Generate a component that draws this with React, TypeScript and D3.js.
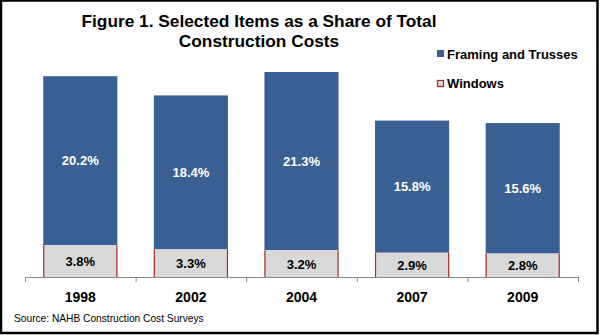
import React from "react";
import * as d3 from "d3";

const years = ["1998", "2002", "2004", "2007", "2009"];
const windows = [3.8, 3.3, 3.2, 2.9, 2.8];
const framing = [20.2, 18.4, 21.3, 15.8, 15.6];
const seriesNames = ["Framing and Trusses", "Windows"];
const titleLines = ["Figure 1. Selected Items as a Share of Total", "Construction Costs"];
const sourceText = "Source: NAHB Construction Cost Surveys";

const W = 600;
const H = 335;
const BLUE = "#3a5f93";
const GRAY = "#d9d9d9";
const RED = "#b02a2a";
const FONT = "'Liberation Sans', Arial, sans-serif";

export default function App() {
  const x = d3.scaleBand<string>().domain(years).range([25, 578]).paddingInner(0.33).paddingOuter(0.165);
  const y = d3.scaleLinear().domain([0, 30]).range([277, 26]);
  const band = d3.scaleBand<string>().domain(years).range([25, 578]);

  return (
    <div style={{ position: "absolute", left: 0, top: 0 }}>
      <svg width={W} height={H} style={{ display: "block", fontFamily: FONT }}>
        <rect x={0} y={0} width={W} height={H} fill="#ffffff" />
        {titleLines.map((t, i) => (
          <text key={t} x={259} y={27 + i * 20} textAnchor="middle" fontSize={17.3} fontWeight="bold" fill="#000">
            {t}
          </text>
        ))}
        {years.map((yr, i) => {
          const x0 = x(yr)!;
          const bw = x.bandwidth();
          const wTop = y(windows[i]);
          const fTop = y(windows[i] + framing[i]);
          return (
            <g key={yr}>
              <rect x={x0} y={fTop} width={bw} height={wTop - fTop} fill={BLUE} />
              <rect x={x0} y={wTop} width={bw} height={y(0) - wTop} fill={GRAY} />
              <line x1={x0 + 0.5} x2={x0 + 0.5} y1={wTop} y2={y(0)} stroke={RED} strokeWidth={1.2} />
              <line x1={x0 + bw - 0.5} x2={x0 + bw - 0.5} y1={wTop} y2={y(0)} stroke={RED} strokeWidth={1.2} />
              <text x={x0 + bw / 2} y={(fTop + wTop) / 2} dy="0.36em" textAnchor="middle" fontSize={13} fontWeight="bold" fill="#fff">
                {framing[i].toFixed(1)}%
              </text>
              <text x={x0 + bw / 2} y={(wTop + y(0)) / 2} dy="0.4em" textAnchor="middle" fontSize={13} fontWeight="bold" fill="#000">
                {windows[i].toFixed(1)}%
              </text>
              <text x={x0 + bw / 2} y={302} textAnchor="middle" fontSize={14} fontWeight="bold" fill="#000">
                {yr}
              </text>
            </g>
          );
        })}
        <line x1={25} x2={578} y1={277.5} y2={277.5} stroke="#888" strokeWidth={1} />
        {years.concat(["end"]).map((yr, i) => {
          const tx = i < years.length ? band(yr)! : 578;
          return <line key={"t" + i} x1={tx + 0.5} x2={tx + 0.5} y1={277} y2={282} stroke="#888" strokeWidth={1} />;
        })}
        <rect x={437} y={50} width={7} height={7} fill={BLUE} />
        <text x={447} y={59} fontSize={13} fontWeight="bold" fill="#000">{seriesNames[0]}</text>
        <rect x={437.5} y={80.5} width={6} height={6} fill={GRAY} stroke={RED} strokeWidth={1.3} />
        <text x={447} y={88} fontSize={13} fontWeight="bold" fill="#000">{seriesNames[1]}</text>
        <text x={14} y={322} fontSize={10.2} fill="#000">{sourceText}</text>
        <rect x={1} y={0.5} width={596.5} height={332.5} fill="none" stroke="#000" strokeWidth={2.5} />
      </svg>
    </div>
  );
}
